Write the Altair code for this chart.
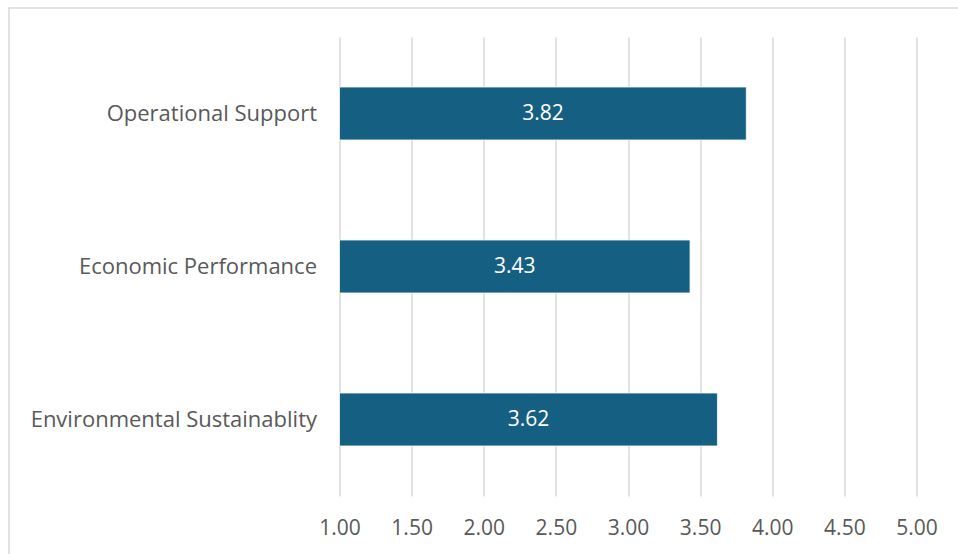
import altair as alt
import pandas as pd

# Mean scores per dimension (scale 1 to 5)
dimensions = ["Operational Support", "Economic Performance", "Environmental Sustainablity"]
scores = [3.82, 3.43, 3.62]
tick_values = [1.0, 1.5, 2.0, 2.5, 3.0, 3.5, 4.0, 4.5, 5.0]

df = pd.DataFrame({"dimension": dimensions, "score": scores})

FONT = "Open Sans"
TEXT_GREY = "#595959"
GRID_GREY = "#D9D9D9"
BAR_BLUE = "#156082"

PLOT_W = 577
PLOT_H = 459
PAD_L = 339.5
PAD_T = 37

x_scale = alt.Scale(domain=[1, 5], nice=False, zero=False)
y_scale = alt.Scale(paddingInner=0.654, paddingOuter=0.327)

base = alt.Chart(df)

bars = base.mark_bar(color=BAR_BLUE, stroke="#FFFFFF", strokeWidth=0.75).encode(
    x=alt.X(
        "score:Q",
        scale=x_scale,
        axis=alt.Axis(
            values=tick_values,
            format=".2f",
            title=None,
            grid=True,
            gridColor=GRID_GREY,
            gridWidth=1.5,
            domain=False,
            ticks=False,
            labelFont=FONT,
            labelFontSize=21,
            labelColor=TEXT_GREY,
            labelPadding=32,
            labelBaseline="middle",
            labelFlush=False,
        ),
    ),
    x2=alt.datum(1),
    y=alt.Y(
        "dimension:N",
        sort=dimensions,
        scale=y_scale,
        axis=alt.Axis(
            title=None,
            domain=False,
            ticks=False,
            grid=False,
            labelFont=FONT,
            labelFontSize=22,
            labelColor=TEXT_GREY,
            labelPadding=23,
            labelLimit=400,
        ),
    ),
)

labels = base.transform_calculate(
    mid="(datum.score + 1) / 2"
).mark_text(
    font=FONT, fontSize=21, color="#FFFFFF", align="center", baseline="middle"
).encode(
    x=alt.X("mid:Q", scale=x_scale),
    y=alt.Y("dimension:N", sort=dimensions, scale=y_scale),
    text=alt.Text("score:Q", format=".2f"),
)

# Light outer frame around the chart area
frame = alt.Chart(pd.DataFrame({"k": [0]})).mark_rect(
    fill=None, stroke=GRID_GREY, strokeWidth=1.5
).encode(
    x=alt.value(9 - PAD_L),
    x2=alt.value(970 - PAD_L),
    y=alt.value(8 - PAD_T),
    y2=alt.value(570 - PAD_T),
)

chart = alt.layer(frame, bars, labels).properties(
    width=PLOT_W,
    height=PLOT_H,
    autosize=alt.AutoSizeParams(type="none"),
    padding={"left": PAD_L, "top": PAD_T, "right": 958 - PAD_L - PLOT_W, "bottom": 554 - PAD_T - PLOT_H},
    background="#FFFFFF",
).configure_view(stroke=None)

chart.save("out.html", embed_options={"renderer": "svg", "actions": False})
